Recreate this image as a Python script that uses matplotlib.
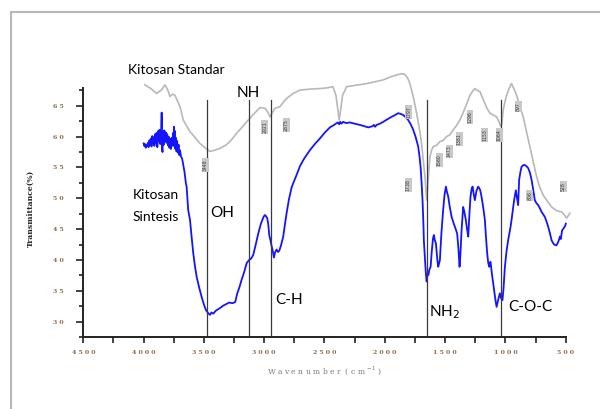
import matplotlib
matplotlib.use("Agg")
import matplotlib.pyplot as plt
from matplotlib.patches import Rectangle

# Kitosan Standar (gray trace)
std_wn = [3990, 3940, 3892, 3850, 3823, 3800, 3781, 3760, 3740, 3715, 3698, 3671,
          3645, 3615, 3570, 3533, 3490, 3450, 3410, 3367, 3320, 3284, 3230, 3180,
          3145, 3090, 3035, 2994, 2970, 2952, 2935, 2911, 2870, 2840, 2814, 2760,
          2704, 2620, 2538, 2480, 2430, 2405, 2390, 2378, 2365, 2350, 2316, 2250,
          2150, 2080, 2013, 1950, 1902, 1860, 1833, 1810, 1792, 1764, 1736, 1715,
          1695, 1680, 1667, 1653, 1640, 1626, 1612, 1598, 1570, 1543, 1515, 1488,
          1460, 1433, 1405, 1377, 1356, 1336, 1315, 1294, 1270, 1253, 1235, 1211,
          1190, 1170, 1150, 1128, 1100, 1073, 1055, 1040, 1030, 1018, 1004, 990,
          970, 949, 930, 907, 880, 852, 825, 797, 770, 741, 715, 686, 650, 617,
          575, 534, 510, 493, 478, 465]
std_t = [68.4, 67.8, 67.0, 67.6, 68.4, 67.6, 66.5, 66.9, 66.7, 65.6, 64.85, 62.7,
         61.8, 60.8, 59.8, 58.9, 58.2, 57.6, 57.8, 58.1, 58.6, 59.2, 60.5, 61.6,
         62.4, 63.6, 64.7, 64.6, 64.0, 63.2, 63.8, 64.6, 64.85, 65.6, 66.2, 67.0,
         67.55, 67.7, 67.8, 67.9, 68.1, 66.7, 64.5, 62.7, 64.5, 66.7, 68.1, 68.3,
         68.6, 68.9, 69.2, 69.7, 70.0, 70.2, 70.1, 69.5, 68.6, 66.5, 63.8, 61.5,
         58.9, 56.0, 53.5, 49.7, 53.0, 56.7, 57.8, 58.4, 58.6, 59.2, 59.4, 60.0,
         60.3, 61.1, 61.8, 62.7, 63.6, 64.6, 65.6, 66.7, 67.4, 67.8, 67.5, 67.3,
         66.3, 65.4, 64.5, 63.8, 63.5, 63.2, 62.5, 61.7, 62.0, 64.3, 65.6, 66.7,
         67.8, 68.6, 67.8, 66.7, 65.0, 63.2, 60.8, 58.4, 56.0, 53.5, 51.8, 50.5,
         49.5, 48.6, 48.0, 47.8, 47.3, 46.8, 47.2, 47.6]

# Kitosan Sintesis (blue trace), noisy part first
syn_wn = [4000, 3994, 3988, 3982, 3976, 3970, 3964, 3958, 3952, 3946, 3940, 3934,
          3928, 3922, 3916, 3910, 3904, 3898, 3892, 3886, 3880, 3874, 3868, 3862,
          3857, 3853, 3850, 3847, 3843, 3838, 3833, 3828, 3822, 3816, 3810, 3804,
          3798, 3792, 3786, 3780, 3774, 3768, 3762, 3756, 3751, 3747, 3744, 3740,
          3736, 3732, 3727, 3722, 3716, 3710, 3704, 3698,
          3690, 3680, 3671, 3660, 3649, 3643, 3630, 3615, 3602, 3588, 3574,
          3560, 3540, 3519, 3500, 3483, 3465, 3450, 3437, 3422, 3400, 3367, 3340,
          3311, 3290, 3262, 3240, 3223, 3205, 3187, 3165, 3145, 3125, 3110, 3091,
          3070, 3049, 3030, 3021, 3005, 2994, 2985, 2975, 2966, 2958, 2948, 2938,
          2930, 2919, 2910, 2897, 2885, 2875, 2860, 2842, 2830, 2814, 2795, 2772,
          2750, 2731, 2704, 2670, 2621, 2580, 2538, 2500, 2455, 2420, 2390, 2378,
          2370, 2360, 2345, 2320, 2289, 2250, 2206, 2170, 2137, 2100, 2090, 2080,
          2068, 2040, 2013, 1980, 1944, 1915, 1889, 1870, 1847, 1825, 1806, 1785,
          1764, 1745, 1723, 1712, 1703, 1695, 1687, 1680, 1676, 1668, 1660, 1653,
          1645, 1638, 1631, 1620, 1610, 1600, 1593, 1585, 1576, 1565, 1557, 1550,
          1543, 1530, 1516, 1505, 1493, 1484, 1474, 1462, 1446, 1430, 1419, 1410,
          1400, 1390, 1380, 1374, 1363, 1350, 1340, 1328, 1318, 1308, 1298, 1289,
          1280, 1272, 1262, 1253, 1240, 1225, 1210, 1200, 1189, 1180, 1170, 1160,
          1151, 1142, 1134, 1128, 1123, 1112, 1101, 1090, 1080, 1073, 1060, 1046,
          1035, 1024, 1015, 1004, 990, 977, 957, 946, 935, 925, 913, 905, 894, 886,
          875, 866, 850, 839, 825, 811, 797, 783, 770, 756, 742, 728, 714, 700,
          686, 673, 660, 645, 630, 617, 600, 585, 576, 565, 555, 548, 540, 530,
          515, 505, 499]
syn_t = [58.9, 58.5, 58.8, 58.2, 58.7, 58.4, 59.0, 58.3, 59.4, 58.6, 59.7, 58.4,
         60.1, 58.9, 59.9, 58.5, 60.4, 59.0, 60.6, 58.3, 60.9, 59.2, 61.1, 58.8,
         60.5, 61.3, 63.9, 58.1, 57.5, 60.9, 58.7, 61.0, 59.3, 60.7, 59.0, 60.4,
         58.6, 60.0, 58.2, 59.6, 58.0, 59.8, 58.5, 60.6, 59.1, 61.6, 58.4, 60.9,
         58.0, 59.8, 57.6, 59.3, 57.4, 58.7, 57.0, 57.8,
         56.8, 56.4, 55.4, 54.2, 52.4, 51.9, 48.1, 46.5, 43.8, 41.1, 39.0,
         37.3, 35.6, 34.05, 32.8, 31.9, 31.4, 31.1, 31.5, 31.3, 31.8, 32.2, 32.6,
         32.9, 33.1, 33.0, 33.2, 34.6, 35.6, 36.8, 38.1, 39.5, 40.0, 40.2, 40.8,
         42.5, 44.3, 45.7, 46.2, 47.0, 47.3, 47.1, 46.8, 45.8, 44.05, 43.2, 42.2,
         41.6, 40.4, 41.2, 41.7, 41.3, 41.5, 42.4, 43.8, 45.5, 47.6, 49.8, 51.8,
         52.9, 53.8, 55.2, 56.4, 57.8, 58.8, 59.7, 60.6, 61.5, 61.9, 62.3, 62.0,
         62.4, 62.1, 62.4, 62.2, 62.3, 62.1, 61.9, 61.7, 61.5, 61.7, 61.9, 61.6,
         61.9, 62.1, 62.4, 62.8, 63.2, 63.5, 63.8, 63.7, 63.5, 63.1, 62.7, 62.0,
         61.1, 60.0, 58.4, 56.8, 55.1, 52.6, 49.7, 46.0, 43.2, 40.5, 38.0, 36.5,
         37.8, 37.6, 38.4, 38.9, 41.5, 43.5, 44.05, 43.2, 42.7, 40.2, 38.9, 39.4,
         40.0, 44.5, 48.1, 50.5, 51.9, 51.0, 50.3, 48.7, 47.0, 46.0, 45.4, 44.9,
         44.3, 42.0, 38.9, 40.5, 44.9, 48.6, 47.8, 46.5, 45.0, 43.8, 47.5, 50.3,
         51.5, 51.9, 50.6, 49.7, 51.2, 51.9, 51.4, 50.5, 49.2, 48.0, 46.5, 43.5,
         41.1, 39.5, 38.9, 39.6, 39.7, 37.8, 36.2, 34.5, 33.2, 32.4, 33.5, 34.6,
         33.8, 33.5, 35.5, 38.9, 41.5, 43.2, 45.4, 46.9, 48.6, 50.0, 51.3, 50.2,
         48.9, 53.0, 54.3, 55.1, 55.4, 55.4, 55.2, 54.9, 54.2, 53.0, 51.5, 49.7,
         49.2, 48.9, 48.4, 47.8, 47.4, 47.0, 46.3, 45.4, 44.3, 43.2, 42.6, 42.4,
         42.4, 42.8, 43.3, 43.8, 43.4, 44.8, 45.2, 45.5, 45.9]

# marker lines for the bands
band_wn = [3477, 3124, 2944, 1650, 1037]

# small peak tags on the standard trace
tag_wn = [3490, 2994, 2814, 1800, 1806, 1549, 1466, 1383, 1294, 1170, 1051, 894, 797, 521]
tag_t = [55.4, 61.6, 61.9, 64.0, 52.2, 56.2, 57.6, 59.6, 63.2, 60.3, 60.3, 64.85, 50.5, 51.9]
tag_txt = ["3448", "2921", "2875", "1797", "1738", "1560", "1473", "1381",
           "1296", "1153", "1064", "897", "806", "528"]

x_ticks = [4500, 4000, 3500, 3000, 2500, 2000, 1500, 1000, 500]
y_ticks = [30, 35, 40, 45, 50, 55, 60, 65]

fig = plt.figure(figsize=(6.0, 4.09), dpi=100)
fig.patches.append(Rectangle((0.0178, -0.05), 1.1, 1.0214, transform=fig.transFigure,
                             fill=False, edgecolor="#b8b8b8", lw=1.5))
ax = fig.add_axes([0.1388, 0.1753, 0.804, 0.6716])

ax.plot(std_wn, std_t, color="#b8b8b8", lw=1.2, clip_on=False)
ax.plot(syn_wn, syn_t, color="#1414ff", lw=1.3, clip_on=False)

for w in band_wn:
    ax.plot([w, w], [27.47, 65.9], color="#3a3a3a", lw=0.9)

for w, t, s in zip(tag_wn, tag_t, tag_txt):
    ax.text(w, t, s, rotation=90, fontsize=3.3, color="#3a3a3a", ha="center", va="center",
            bbox=dict(boxstyle="square,pad=0.2", fc="#c8c8c8", ec="none"))

font = "Lato"
ax.text(4129, 70.8, "Kitosan Standar", fontsize=10, family=font, va="center")
ax.text(4088, 50.5, "Kitosan", fontsize=10, family=font, va="center")
ax.text(4088, 47.0, "Sintesis", fontsize=10, family=font, va="center")
ax.text(3450, 47.7, "OH", fontsize=11, family=font, va="center")
ax.text(3130, 67.1, "NH", fontsize=11, family=font, va="center", ha="center")
ax.text(2911, 33.5, "C-H", fontsize=11, family=font, va="center")
ax.text(1634, 31.6, "NH$_2$", fontsize=11, family=font, va="center")
ax.text(979, 32.4, "C-O-C", fontsize=11, family=font, va="center")

ax.set_xlim(4500, 500)
ax.set_ylim(27.47, 72)
for s in ["top", "right"]:
    ax.spines[s].set_visible(False)
ax.spines["left"].set_bounds(27.47, 67.9)
for s in ["left", "bottom"]:
    ax.spines[s].set_linewidth(1.4)
    ax.spines[s].set_color("#222222")

ax.set_xticks(x_ticks)
ax.set_xticks(list(range(4250, 500, -500)), minor=True)
ax.set_xticklabels([" ".join(str(v)) for v in x_ticks])
ax.set_yticks(y_ticks)
ax.set_yticks([27.5 + 5 * i for i in range(9)], minor=True)
ax.set_yticklabels([" ".join(str(v)) for v in y_ticks])
ax.tick_params(axis="both", which="both", direction="out", color="#222222", width=1.2,
               labelsize=4.5, labelcolor="#8a6a48")
ax.tick_params(axis="x", which="major", length=4, pad=5)
ax.tick_params(axis="x", which="minor", length=4)
ax.tick_params(axis="y", which="major", length=5, pad=9)
ax.tick_params(axis="y", which="minor", length=3)
for lbl in ax.get_xticklabels() + ax.get_yticklabels():
    lbl.set_family("DejaVu Serif")
    lbl.set_fontweight("bold")

fig.text(0.051, 0.49, "Transmittance(%)", rotation=90, fontsize=5.5, family="DejaVu Serif",
         fontweight="bold", color="#222222", ha="center", va="center")
fig.text(0.54, 0.095, "W a v e n u m b e r  ( c m $^{-1}$ )", fontsize=5.5,
         family="DejaVu Serif", color="#777777", ha="center", va="center")

fig.savefig("out.png", dpi=100)
